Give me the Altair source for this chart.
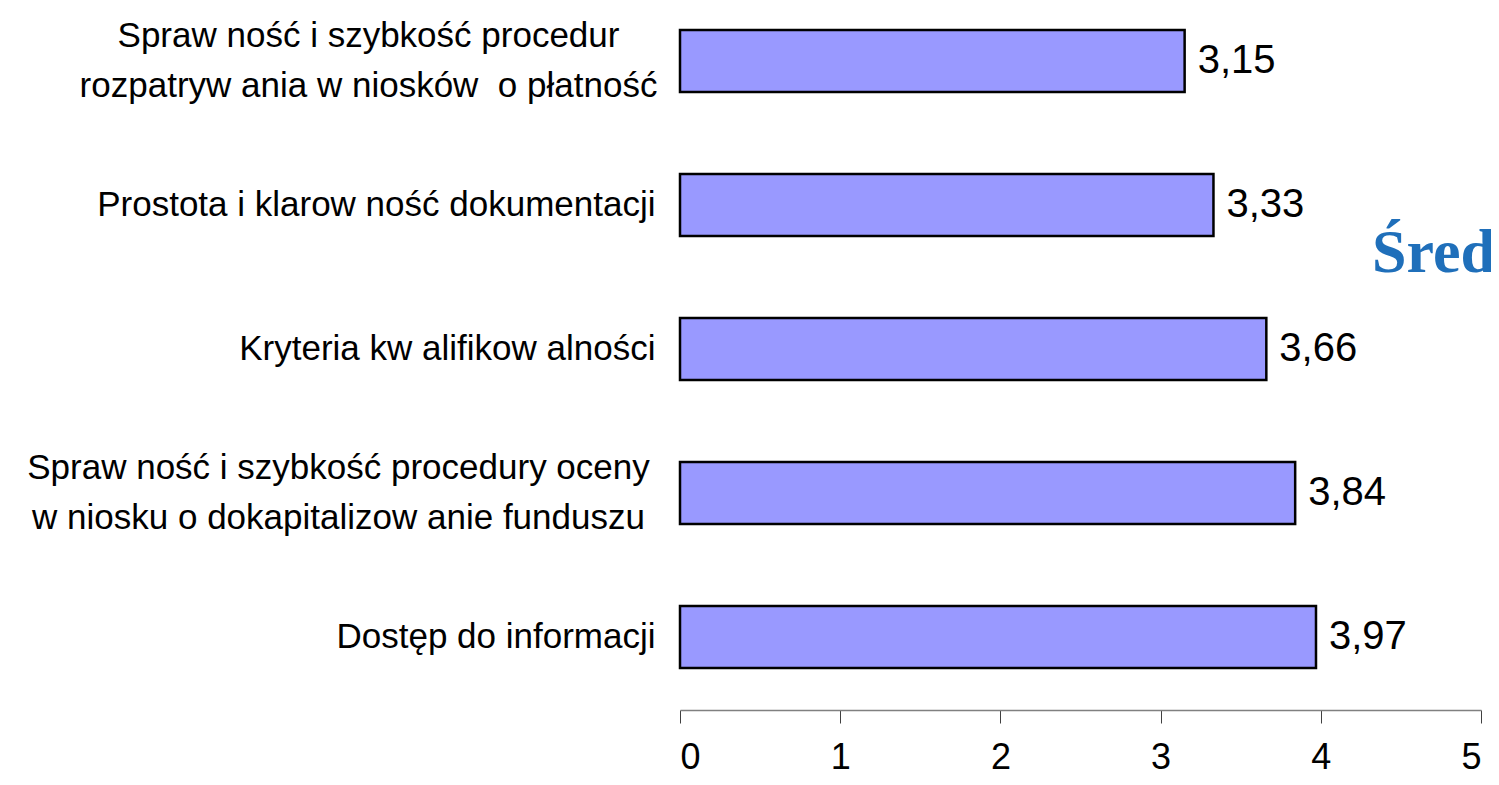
import altair as alt
import pandas as pd

NB = "\u00a0"
categories = [
    "Spraw ność i szybkość procedur|rozpatryw ania w niosków" + NB * 2 + "o płatność",
    "Prostota i klarow ność dokumentacji",
    "Kryteria kw alifikow alności",
    "Spraw ność i szybkość procedury oceny|w niosku o dokapitalizow anie funduszu",
    "Dostęp do informacji",
]
values = [3.15, 3.33, 3.66, 3.84, 3.97]
x_ticks = [0, 1, 2, 3, 4, 5]
side_text = ["Średnia"]

df = pd.DataFrame({"cat": categories, "value": values})
FONT = "Liberation Sans"

two_line = "indexof(datum.value, '|') >= 0"

y_enc = alt.Y(
    "cat:N",
    sort=categories,
    scale=alt.Scale(paddingInner=0.57, paddingOuter=0.2225, align=0.344),
    axis=alt.Axis(
        title=None, domain=False, ticks=False,
        labelPadding={
            "condition": [
                {"test": "indexof(datum.value, 'procedur|') >= 0", "value": 312},
                {"test": "indexof(datum.value, 'oceny|') >= 0", "value": 342},
            ],
            "value": 25,
        },
        labelAlign={"condition": {"test": two_line, "value": "center"}, "value": "right"},
        labelFont=FONT, labelFontSize=35, labelColor="#000000",
        labelLimit=900, labelLineHeight=50,
        labelOffset={"condition": {"test": two_line, "value": -25}, "value": 0},
        labelExpr="split(datum.label, '|')",
    ),
)
x_enc = alt.X(
    "value:Q",
    scale=alt.Scale(domain=[0, 5], nice=False),
    axis=alt.Axis(
        title=None, values=x_ticks, grid=False, domainColor="#808080",
        domainWidth=1.5, tickColor="#404040", tickSize=13, tickWidth=1,
        labelFont=FONT, labelFontSize=36, labelColor="#000000", labelPadding=17,
        format="d",
    ),
)

bars = alt.Chart(df).mark_bar(
    fill="#9999FF", stroke="#000000", strokeWidth=2.5
).encode(x=x_enc, y=y_enc)

text = alt.Chart(df).mark_text(
    align="left", baseline="middle", dx=13, font=FONT, fontSize=40, color="#000000"
).transform_calculate(
    lbl="replace(format(datum.value, '.2f'), '.', ',')"
).encode(x="value:Q", y=alt.Y("cat:N", sort=categories), text="lbl:N")

side = alt.Chart(pd.DataFrame({"t": side_text})).mark_text(
    align="left", baseline="alphabetic", font="Liberation Serif", fontWeight="bold",
    fontSize=62, color="#1f6fba"
).encode(x=alt.value(692), y=alt.value(264), text="t:N")

chart = alt.layer(bars, text, side).properties(
    width=801, height=702,
    autosize=alt.AutoSizeParams(type="none"),
    padding={"left": 672, "right": 10, "top": 0, "bottom": 66},
).configure_view(stroke=None)

chart.save("out.html", embed_options={"renderer": "svg", "actions": False})
